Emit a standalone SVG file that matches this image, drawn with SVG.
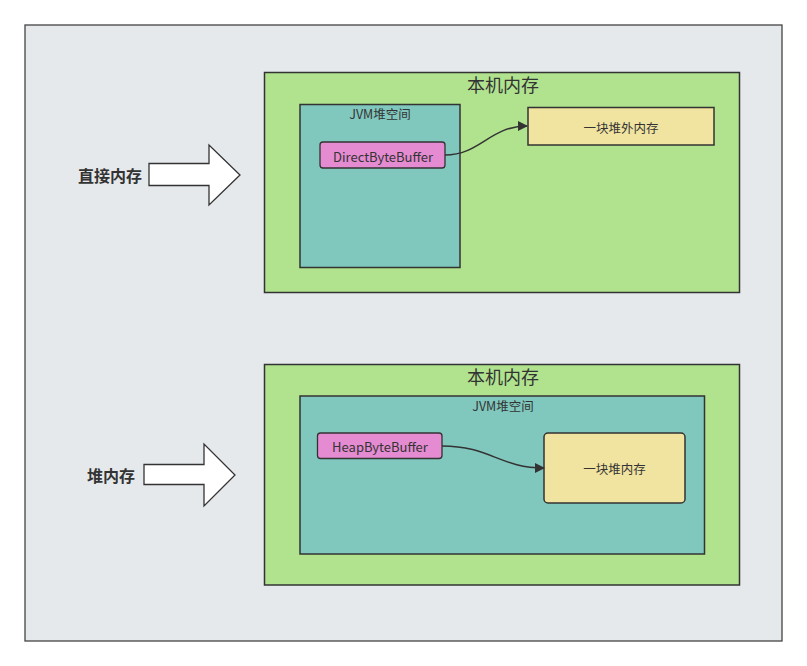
<svg xmlns="http://www.w3.org/2000/svg" width="807" height="666" viewBox="0 0 807 666">
<defs>
<style>
.frame{fill:#e6e9ec;stroke:#444;stroke-width:1.3}
.host{fill:#b1e38f;stroke:#333;stroke-width:1.5}
.jvm{fill:#80c7bd;stroke:#333;stroke-width:1.5}
.buf{fill:#e58bd1;stroke:#333;stroke-width:1.3}
.mem{fill:#f1e3a0;stroke:#333;stroke-width:1.5}
.bigarrow{fill:#fff;stroke:#333;stroke-width:1.3}
.conn{fill:none;stroke:#333;stroke-width:1.5}
text{font-family:"Microsoft YaHei","Noto Sans CJK SC","Noto Sans",sans-serif;fill:#333;text-anchor:middle;dominant-baseline:central}
.t16{font-size:18px}
.t12{font-size:12.5px}
.t13{font-size:13px}
.lbl{font-size:16px;font-weight:bold}
</style>
<marker id="ah" viewBox="0 0 10 10" refX="9" refY="5" markerWidth="10" markerHeight="10" markerUnits="userSpaceOnUse" orient="auto">
<path d="M0,0 L10,5 L0,10 Z" fill="#333"/>
</marker>
</defs>
<rect class="frame" x="25" y="25" width="757" height="616"/>

<g id="label-direct">
<text class="lbl" x="110" y="175">直接内存</text>
<polygon class="bigarrow" points="149,163.5 209,163.5 209,145 240,175 209,205 209,185.5 149,185.5"/>
</g>
<g id="label-heap">
<text class="lbl" x="111" y="475">堆内存</text>
<polygon class="bigarrow" points="144,464.5 204,464.5 204,444 235,475 204,506 204,484.5 144,484.5"/>
</g>

<g id="host1">
<rect class="host" x="264.5" y="72.5" width="475" height="220"/>
<text class="t16" x="503" y="84">本机内存</text>
</g>
<g id="jvm1">
<rect class="jvm" x="300" y="104.5" width="160" height="163"/>
<text class="t12" x="380" y="113">JVM堆空间</text>
</g>
<g id="direct">
<rect class="buf" x="320" y="142" width="125" height="26" rx="3"/>
<text class="t13" x="383" y="156">DirectByteBuffer</text>
</g>
<g id="offheap">
<rect class="mem" x="528" y="107.5" width="186" height="37.5"/>
<text class="t12" x="621" y="127">一块堆外内存</text>
</g>

<g id="host2">
<rect class="host" x="264.5" y="364.5" width="475" height="220.5"/>
<text class="t16" x="503" y="376">本机内存</text>
</g>
<g id="jvm2">
<rect class="jvm" x="300" y="396" width="404.5" height="158"/>
<text class="t12" x="503" y="405">JVM堆空间</text>
</g>
<g id="heapbuf">
<rect class="buf" x="317.5" y="433" width="124.5" height="25.5" rx="3"/>
<text class="t13" x="380" y="446">HeapByteBuffer</text>
</g>
<g id="heapmem">
<rect class="mem" x="544" y="433" width="141" height="70" rx="4"/>
<text class="t12" x="614.5" y="468">一块堆内存</text>
</g>

<g id="connectors">
<path class="conn" d="M445,155 C480,155 490,126 527,126" marker-end="url(#ah)"/>
<path class="conn" d="M442,446 C490,446 500,468 544,468" marker-end="url(#ah)"/>
</g>
</svg>
